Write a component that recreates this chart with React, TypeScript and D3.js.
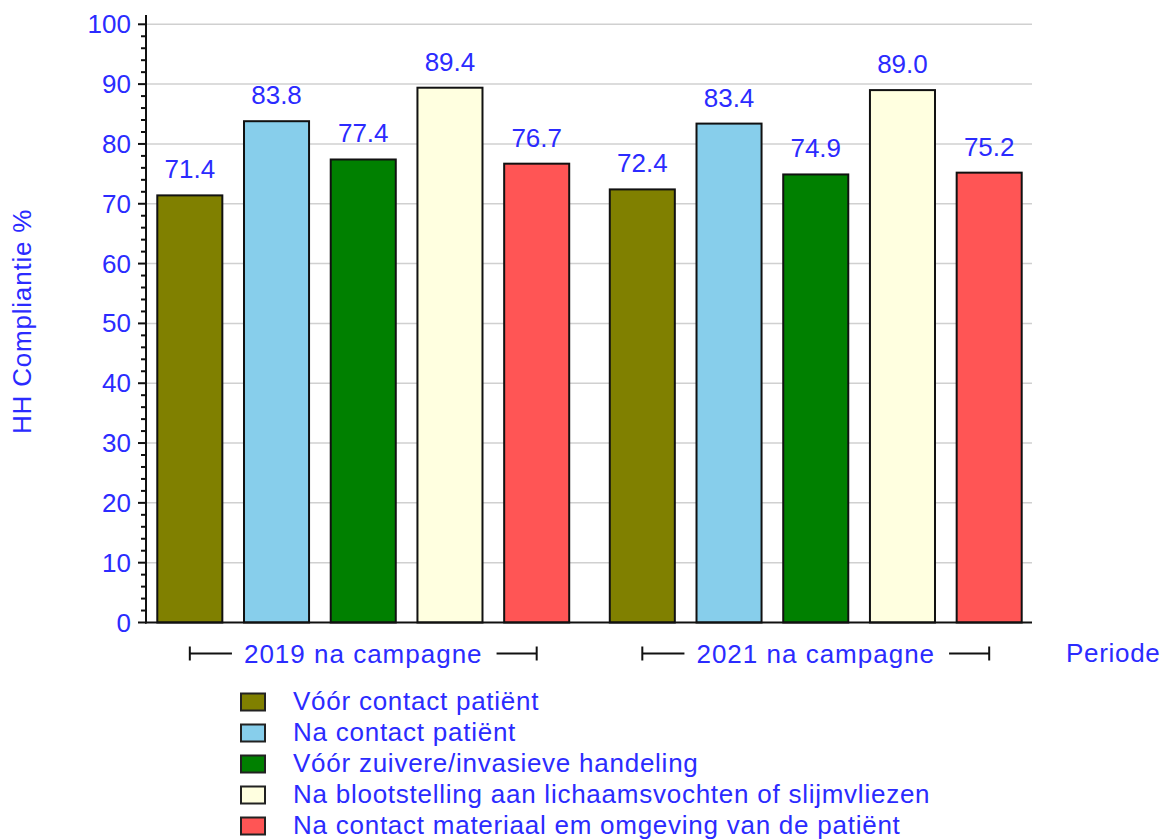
import React, { useEffect, useRef } from 'react';
import * as d3 from 'd3';

const periods = ['2019 na campagne', '2021 na campagne'];
const momenten = [
  'Vóór contact patiënt',
  'Na contact patiënt',
  'Vóór zuivere/invasieve handeling',
  'Na blootstelling aan lichaamsvochten of slijmvliezen',
  'Na contact materiaal em omgeving van de patiënt',
];
const values2019 = [71.4, 83.8, 77.4, 89.4, 76.7];
const values2021 = [72.4, 83.4, 74.9, 89.0, 75.2];
const colors = ['#808000', '#87ceeb', '#008000', '#ffffe0', '#ff5555'];
const yTicks = [0, 10, 20, 30, 40, 50, 60, 70, 80, 90, 100];

const W = 1171;
const H = 839;
const FONT = '"Liberation Sans", Arial, sans-serif';
const BLUE = '#2b2bff';

const App = () => {
  const ref = useRef<SVGSVGElement>(null);

  useEffect(() => {
    const svg = d3.select(ref.current);
    svg.selectAll('*').remove();

    const axisX = 146;
    const plotRight = 1032;
    const y = d3.scaleLinear().domain([0, 100]).range([622.5, 24.3]);
    const x0 = d3.scaleBand().domain(periods).range([137, 1042]);
    const x1 = d3.scaleBand()
      .domain(momenten)
      .range([0, x0.bandwidth()])
      .paddingInner(0.25)
      .paddingOuter(0.234);

    const series = [values2019, values2021];

    // rasterlijnen
    svg.append('g')
      .selectAll('line')
      .data(yTicks.filter(d => d > 0))
      .enter()
      .append('line')
      .attr('x1', axisX)
      .attr('x2', plotRight)
      .attr('y1', d => y(d))
      .attr('y2', d => y(d))
      .attr('stroke', '#d0d0d0')
      .attr('stroke-width', 1.5);

    // balken
    periods.forEach((p, gi) => {
      const g = svg.append('g').attr('transform', `translate(${x0(p)},0)`);
      g.selectAll('rect')
        .data(series[gi])
        .enter()
        .append('rect')
        .attr('x', (d, i) => x1(momenten[i])!)
        .attr('y', d => y(d))
        .attr('width', x1.bandwidth())
        .attr('height', d => y(0) - y(d))
        .attr('fill', (d, i) => colors[i])
        .attr('stroke', '#111')
        .attr('stroke-width', 2);

      g.selectAll('text')
        .data(series[gi])
        .enter()
        .append('text')
        .attr('x', (d, i) => x1(momenten[i])! + x1.bandwidth() / 2)
        .attr('y', d => y(d) - 17)
        .attr('text-anchor', 'middle')
        .attr('font-family', FONT)
        .attr('font-size', 26)
        .attr('fill', BLUE)
        .text(d => d.toFixed(1));

      // groepslabel met haken
      const left = x0(p)! + x1(momenten[0])! + x1.bandwidth() / 2;
      const right = x0(p)! + x1(momenten[4])! + x1.bandwidth() / 2;
      const mid = (left + right) / 2;
      const ly = 653.5;
      const label = g.append('text')
        .attr('x', mid - x0(p)!)
        .attr('y', ly + 9)
        .attr('text-anchor', 'middle')
        .attr('font-family', FONT)
        .attr('font-size', 26)
        .attr('letter-spacing', 1)
        .attr('fill', BLUE)
        .text(p);
      const tw = (label.node() as SVGTextElement).getComputedTextLength();
      const br = svg.append('g').attr('stroke', '#111').attr('stroke-width', 2);
      br.append('line').attr('x1', left).attr('x2', mid - tw / 2 - 12).attr('y1', ly).attr('y2', ly);
      br.append('line').attr('x1', mid + tw / 2 + 14).attr('x2', right).attr('y1', ly).attr('y2', ly);
      br.append('line').attr('x1', left).attr('x2', left).attr('y1', ly - 7).attr('y2', ly + 7);
      br.append('line').attr('x1', right).attr('x2', right).attr('y1', ly - 7).attr('y2', ly + 7);
    });

    // y-as
    const ya = svg.append('g').attr('stroke', '#111').attr('stroke-width', 2);
    ya.append('line').attr('x1', axisX).attr('x2', axisX).attr('y1', 15).attr('y2', y(0) + 1);
    ya.append('line').attr('x1', axisX - 1).attr('x2', plotRight).attr('y1', y(0)).attr('y2', y(0));
    ya.selectAll('.minor')
      .data(d3.range(0, 101, 2))
      .enter()
      .append('line')
      .attr('x1', d => (d % 10 === 0 ? axisX - 8 : axisX - 5))
      .attr('x2', axisX)
      .attr('y1', d => y(d))
      .attr('y2', d => y(d));

    svg.append('g')
      .selectAll('text')
      .data(yTicks)
      .enter()
      .append('text')
      .attr('x', 131)
      .attr('y', d => y(d) + 9)
      .attr('text-anchor', 'end')
      .attr('font-family', FONT)
      .attr('font-size', 26)
      .attr('fill', BLUE)
      .text(d => d);

    svg.append('text')
      .attr('transform', `translate(31,${y(50) - 2}) rotate(-90)`)
      .attr('text-anchor', 'middle')
      .attr('font-family', FONT)
      .attr('font-size', 26)
      .attr('letter-spacing', 0.8)
      .attr('fill', BLUE)
      .text('HH Compliantie %');

    svg.append('text')
      .attr('x', 1066)
      .attr('y', 662)
      .attr('font-family', FONT)
      .attr('font-size', 26)
      .attr('letter-spacing', 0.7)
      .attr('fill', BLUE)
      .text('Periode');

    // legenda
    const leg = svg.append('g')
      .selectAll('g')
      .data(momenten)
      .enter()
      .append('g')
      .attr('transform', (d, i) => `translate(241,${702 + i * 31})`);
    leg.append('rect')
      .attr('x', 0)
      .attr('y', -8.5)
      .attr('width', 24)
      .attr('height', 17)
      .attr('fill', (d, i) => colors[i])
      .attr('stroke', '#222')
      .attr('stroke-width', 2);
    leg.append('text')
      .attr('x', 52)
      .attr('y', 8)
      .attr('font-family', FONT)
      .attr('font-size', 26)
      .attr('letter-spacing', 0.75)
      .attr('fill', BLUE)
      .text(d => d);
  }, []);

  return (
    <svg
      ref={ref}
      width={W}
      height={H}
      style={{ position: 'absolute', left: 0, top: 0, background: '#fff' }}
    />
  );
};

export default App;
